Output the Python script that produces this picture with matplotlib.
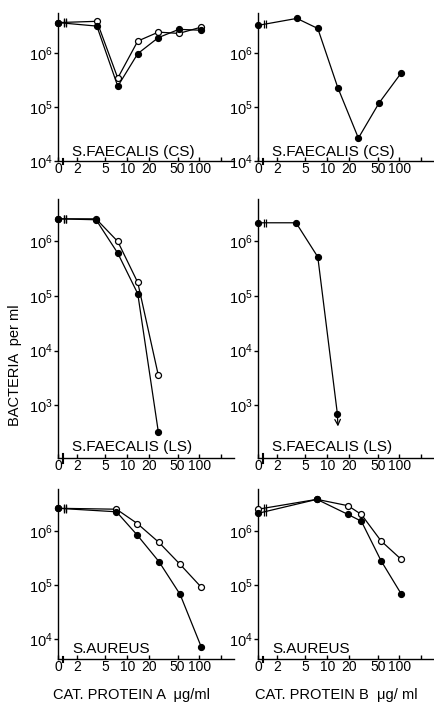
import numpy as np
import matplotlib
matplotlib.use("Agg")
import matplotlib.pyplot as plt
import matplotlib.transforms as mtransforms

# concentrations in ug/ml, 0 = control (drawn at the axis break)
conc_top = [0, 3.8, 7.4, 14, 27, 52, 105]
conc_ls_a = [0, 3.7, 7.4, 14, 27]
conc_ls_b = [0, 3.7, 7.4, 13.8]
conc_au_a = [0, 7.1, 13.8, 27.5, 54, 106]
conc_au_b = [0, 7.2, 19.4, 29.7, 55.6, 106]

# S. faecalis (CS), protein A
cs_a_closed = [3.6e6, 3.1e6, 2.4e5, 9.6e5, 1.9e6, 2.7e6, 2.6e6]
cs_a_open = [3.6e6, 3.8e6, 3.4e5, 1.64e6, 2.4e6, 2.27e6, 2.96e6]
# S. faecalis (CS), protein B
cs_b_closed = [3.2e6, 4.3e6, 2.8e6, 2.27e5, 2.65e4, 1.17e5, 4.17e5]
# S. faecalis (LS)
ls_a_closed = [2.6e6, 2.5e6, 6.1e5, 1.1e5, 3.2e2]
ls_a_open = [2.6e6, 2.6e6, 1.0e6, 1.77e5, 3.5e3]
ls_b_closed = [2.2e6, 2.2e6, 5.2e5, 7.0e2]
# S. aureus
au_a_closed = [2.6e6, 2.24e6, 8.3e5, 2.7e5, 6.7e4, 7.2e3]
au_a_open = [2.6e6, 2.5e6, 1.36e6, 6.1e5, 2.4e5, 9.1e4]
au_b_closed = [2.1e6, 3.8e6, 2.0e6, 1.5e6, 2.8e5, 6.8e4]
au_b_open = [2.5e6, 3.8e6, 2.9e6, 2.0e6, 6.5e5, 2.96e5]

xticks = [2, 5, 10, 20, 50, 100, 200]
xticklabels = ['2', '5', '10', '20', '50', '100', '']
X0 = 1.1
XMAX = 301

plt.rcParams['font.family'] = 'Liberation Sans'
plt.rcParams['mathtext.fontset'] = 'custom'
plt.rcParams['mathtext.rm'] = 'Liberation Sans'
plt.rcParams['mathtext.it'] = 'Liberation Sans:italic'

fig = plt.figure(figsize=(4.34, 7.09), dpi=100)

rows = [  # bottom, height, ylim
    (0.7729, 0.2087, (1e4, 5.4e6), [1e4, 1e5, 1e6]),
    (0.354, 0.3653, (1.07e2, 6.0e6), [1e3, 1e4, 1e5, 1e6]),
    (0.0705, 0.2398, (4.3e3, 5.9e6), [1e4, 1e5, 1e6]),
]
cols = [0.1336, 0.5945]
width = 0.4055


def xpos(c):
    c = np.asarray(c, dtype=float)
    return np.where(c == 0, X0, c)


def setup(ax, ylim, yticks, label):
    ax.set_xscale('log')
    ax.set_yscale('log')
    ax.set_xlim(X0, XMAX)
    ax.set_ylim(*ylim)
    ax.spines['top'].set_visible(False)
    ax.spines['right'].set_visible(False)
    for s in ['left', 'bottom']:
        ax.spines[s].set_linewidth(1.0)
    ax.set_xticks([X0] + xticks)
    ax.set_xticklabels(['0'] + xticklabels, fontsize=10)
    ax.xaxis.set_minor_locator(matplotlib.ticker.NullLocator())
    ax.yaxis.set_minor_locator(matplotlib.ticker.NullLocator())
    ax.set_yticks(yticks)
    ax.tick_params(axis='x', direction='in', length=3, width=1, pad=1)
    ax.tick_params(axis='y', direction='out', length=3, width=1, pad=1,
                   labelsize=10.5)
    ax.patch.set_alpha(0)
    ax.text(0.08, 0.015, label, transform=ax.transAxes, fontsize=11,
            ha='left', va='bottom')
    # axis break on the x-axis
    tr = mtransforms.blended_transform_factory(ax.transData, ax.transAxes)
    for bx in [1.25, 1.31]:
        ax.plot([bx, bx], [-0.02, 0.02], transform=tr, color='black',
                lw=0.8, clip_on=False)


def series(ax, conc, vals, filled):
    x = xpos(conc)
    ax.plot(x, vals, color='black', lw=0.9, marker='o', markersize=4.3,
            markerfacecolor='black' if filled else 'white',
            markeredgecolor='black', markeredgewidth=0.9, clip_on=False,
            zorder=4 if filled else 3)
    # break marks on the line
    yb = vals[0] * (vals[1] / vals[0]) ** ((np.log10(1.36) - np.log10(X0)) /
                                          (np.log10(x[1]) - np.log10(X0)))
    for bx in [1.32, 1.40]:
        ax.plot([bx], [yb], marker='|', markersize=6, color='black',
                markeredgewidth=0.9, zorder=5)


panels = [
    (0, 0, 'S.FAECALIS (CS)', [(conc_top, cs_a_closed, True), (conc_top, cs_a_open, False)]),
    (0, 1, 'S.FAECALIS (CS)', [(conc_top, cs_b_closed, True)]),
    (1, 0, 'S.FAECALIS (LS)', [(conc_ls_a, ls_a_closed, True), (conc_ls_a, ls_a_open, False)]),
    (1, 1, 'S.FAECALIS (LS)', [(conc_ls_b, ls_b_closed, True)]),
    (2, 0, 'S.AUREUS', [(conc_au_a, au_a_closed, True), (conc_au_a, au_a_open, False)]),
    (2, 1, 'S.AUREUS', [(conc_au_b, au_b_closed, True), (conc_au_b, au_b_open, False)]),
]

for r, c, label, lines in panels:
    bottom, height, ylim, yticks = rows[r]
    ax = fig.add_axes([cols[c], bottom, width, height])
    setup(ax, ylim, yticks, label)
    for conc, vals, filled in lines:
        series(ax, conc, vals, filled)
    if r == 1 and c == 1:
        xl = conc_ls_b[-1]
        yl = ls_b_closed[-1]
        ax.annotate('', xy=(xl * 1.02, yl * 0.58), xytext=(xl, yl),
                    arrowprops=dict(arrowstyle='->', color='black', lw=0.9,
                                    shrinkA=0, shrinkB=0))

fig.text(0.035, 0.485, 'BACTERIA  per ml', rotation=90, ha='center',
         va='center', fontsize=10.5)
fig.text(0.304, 0.02, 'CAT. PROTEIN A  \u03bcg/ml', ha='center', va='center',
         fontsize=10.5)
fig.text(0.776, 0.02, 'CAT. PROTEIN B  \u03bcg/ ml', ha='center', va='center',
         fontsize=10.5)

fig.savefig('out.png', dpi=100)
